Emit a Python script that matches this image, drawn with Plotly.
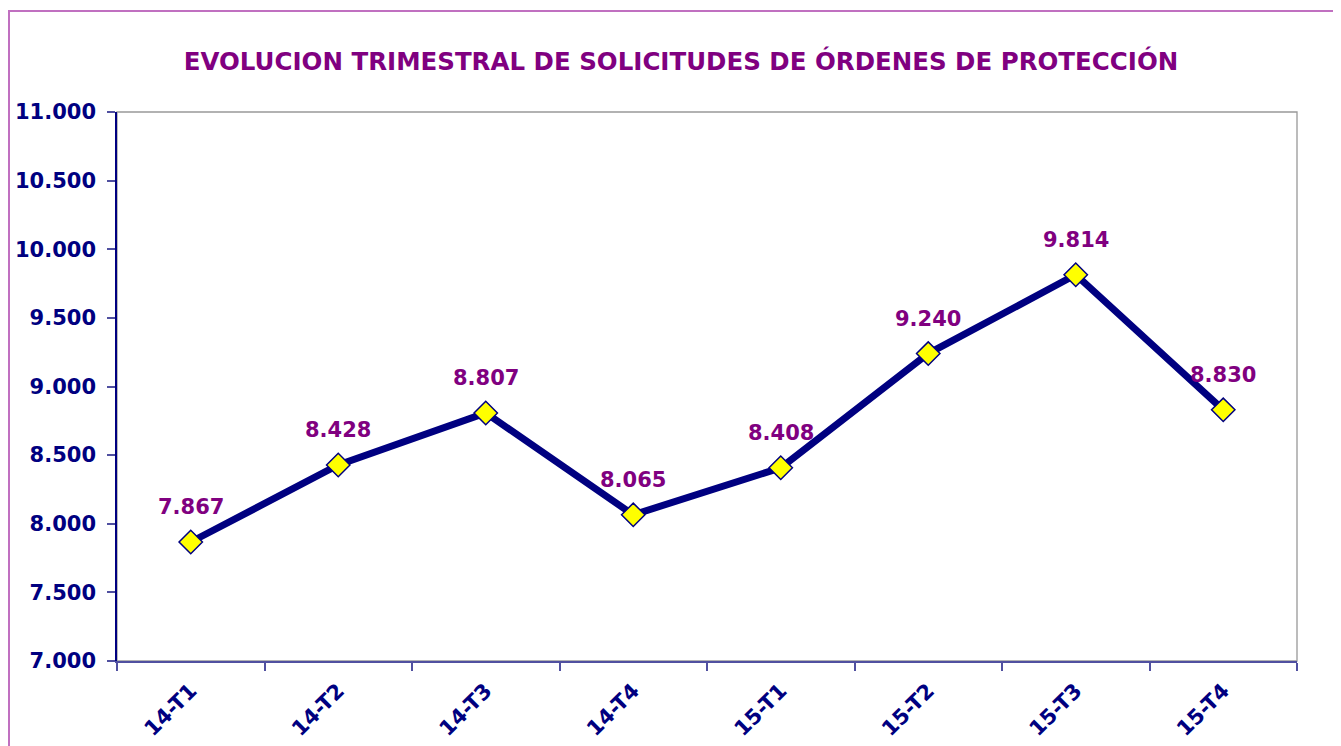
import plotly.graph_objects as go

categories = ["14-T1", "14-T2", "14-T3", "14-T4", "15-T1", "15-T2", "15-T3", "15-T4"]
values = [7867, 8428, 8807, 8065, 8408, 9240, 9814, 8830]
y_ticks = [7000, 7500, 8000, 8500, 9000, 9500, 10000, 10500, 11000]
title_text = "EVOLUCION TRIMESTRAL DE SOLICITUDES DE ÓRDENES DE PROTECCIÓN"

FONT = "DejaVu Sans"
NAVY = "#000080"
PURPLE = "#800080"

def fmt(v):
    return f"{v:,}".replace(",", ".")

fig = go.Figure()
fig.add_trace(go.Scatter(
    x=categories, y=values, mode="lines+markers",
    line=dict(color=NAVY, width=7),
    marker=dict(symbol="diamond", size=18, color="#FFFF00",
                line=dict(color=NAVY, width=1.5)),
    hoverinfo="x+y", showlegend=False,
))

annotations = [
    dict(x=c, y=v, text="<b>" + fmt(v) + "</b>", showarrow=False, xref="x", yref="y",
         yanchor="middle", yshift=35,
         font=dict(family=FONT, size=21, color=PURPLE))
    for c, v in zip(categories, values)
]

OFF = 8  # default page body margin
W, H = 1341 - OFF, 746 - OFF
L, R, T, B = 117 - OFF, 1297 - OFF, 112 - OFF, 661 - OFF
pw, ph = R - L, B - T

def px_x(p):
    return (p - OFF - L) / pw

def px_y(p):
    return (B - (p - OFF)) / ph

shapes = [
    dict(type="rect", xref="paper", yref="paper", x0=0, x1=1, y0=0, y1=1,
         line=dict(color="#999999", width=1.3), layer="below"),
    dict(type="rect", xref="paper", yref="paper",
         x0=px_x(9), x1=px_x(1338), y0=px_y(790), y1=px_y(11),
         line=dict(color="#C070C0", width=2)),
]

fig.update_layout(
    width=W, height=H,
    margin=dict(l=L, r=W - R, t=T, b=H - B, pad=0, autoexpand=False),
    paper_bgcolor="white", plot_bgcolor="white",
    separators=",.",
    title=dict(text="<b>" + title_text + "</b>", x=(681 - OFF) / W, xref="container", xanchor="center",
               y=1 - (61.5 - OFF) / H, yref="container", yanchor="middle",
               font=dict(family=FONT, size=24.5, color=PURPLE)),
    xaxis=dict(
        type="category", range=[-0.5, len(categories) - 0.5], automargin=False,
        tickvals=categories, ticktext=["<b>" + c + "</b>" for c in categories],
        showline=True, linecolor="#5050A0", linewidth=2,
        ticks="outside", tickson="boundaries", ticklen=8, tickcolor="#5050A0", tickwidth=2,
        tickangle=-45, showgrid=False, zeroline=False,
        tickfont=dict(family=FONT, size=21, color=NAVY),
        ticklabelstandoff=7,
    ),
    yaxis=dict(
        range=[7000, 11000], tickvals=y_ticks, automargin=False,
        ticktext=["<b>" + fmt(v) + "</b>" for v in y_ticks],
        showline=True, linecolor=NAVY, linewidth=1.5,
        ticks="outside", ticklen=8, tickcolor="#5050A0", tickwidth=2,
        showgrid=False, zeroline=False,
        tickfont=dict(family=FONT, size=21, color=NAVY),
        ticklabelstandoff=7,
    ),
    annotations=annotations,
    shapes=shapes,
)

fig.write_html("out.html")
